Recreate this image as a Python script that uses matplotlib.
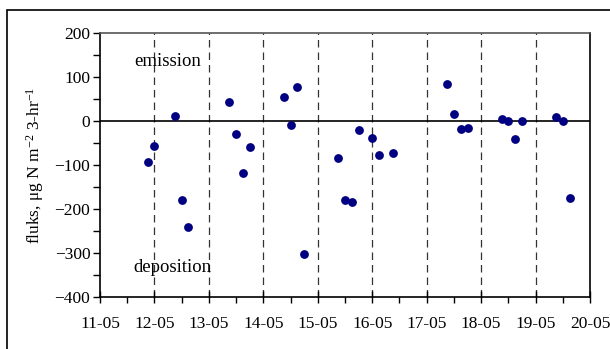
import matplotlib.pyplot as plt
from matplotlib.patches import Rectangle
from matplotlib.ticker import MultipleLocator, FixedLocator
import numpy as np

# time in days after 11-05 00:00 (3-hourly samples)
days = [0.875, 1.0, 1.375, 1.5, 1.625,
        2.375, 2.5, 2.625, 2.75,
        3.375, 3.5, 3.625, 3.75,
        4.375, 4.5, 4.625, 4.75, 5.0, 5.125, 5.375,
        6.375, 6.5, 6.625, 6.75,
        7.375, 7.5, 7.625, 7.75,
        8.375, 8.5, 8.625]
flux = [-94, -57, 11, -180, -240,
        43, -30, -119, -59,
        55, -8, 78, -302,
        -85, -180, -183, -20, -39, -77, -73,
        83, 17, -19, -17,
        4, 1, -41, -1,
        8, -1, -174]
day_labels = ["11-05", "12-05", "13-05", "14-05", "15-05",
              "16-05", "17-05", "18-05", "19-05", "20-05"]

plt.rcParams['font.family'] = ['Liberation Serif', 'DejaVu Serif']
plt.rcParams['mathtext.fontset'] = 'custom'
plt.rcParams['mathtext.rm'] = 'Liberation Serif'
plt.rcParams['mathtext.it'] = 'Liberation Serif:italic'

fig = plt.figure(figsize=(6.1, 3.49), dpi=100)
ax = fig.add_axes([100 / 610, 52 / 349, 490 / 610, 264 / 349])

# frame round the whole figure (cut off at right and bottom as in the original)
fig.patches.append(Rectangle((7 / 610, -0.1), 1.2, (349 - 10) / 349 + 0.1,
                             transform=fig.transFigure, fill=False,
                             edgecolor='black', lw=1.2))

# dashed day separators
for d in range(1, 9):
    ax.axvline(d, color='#333333', lw=0.9, ls=(0, (6, 4)), zorder=1)
ax.axhline(0, color='black', lw=1.2, zorder=2)

ax.scatter(days, flux, s=40, color='#000080', zorder=3, linewidths=0)

ax.set_xlim(0, 9)
ax.set_ylim(-400, 200)
ax.xaxis.set_major_locator(FixedLocator(np.arange(0, 10)))
ax.set_xticklabels(day_labels)
ax.xaxis.set_minor_locator(MultipleLocator(0.5))
ax.yaxis.set_major_locator(MultipleLocator(100))
ax.yaxis.set_minor_locator(MultipleLocator(50))

ax.tick_params(axis='x', which='major', direction='inout', length=8, width=1,
               labelsize=12.5, pad=10)
ax.tick_params(axis='x', which='minor', direction='out', length=4, width=1)
ax.tick_params(axis='y', which='both', direction='out', length=5, width=1,
               labelsize=12.5, pad=2)

for s in ax.spines.values():
    s.set_linewidth(1.2)
ax.spines['top'].set_color('#555555')

ax.set_ylabel("fluks, \u03bcg N m$^{-2}$ 3-hr$^{-1}$", fontsize=12.5, labelpad=6)

ax.text(0.62, 136, "emission", fontsize=13.5, va='center')
ax.text(0.62, -334, "deposition", fontsize=13.5, va='center')

fig.savefig("out.png", dpi=100)
